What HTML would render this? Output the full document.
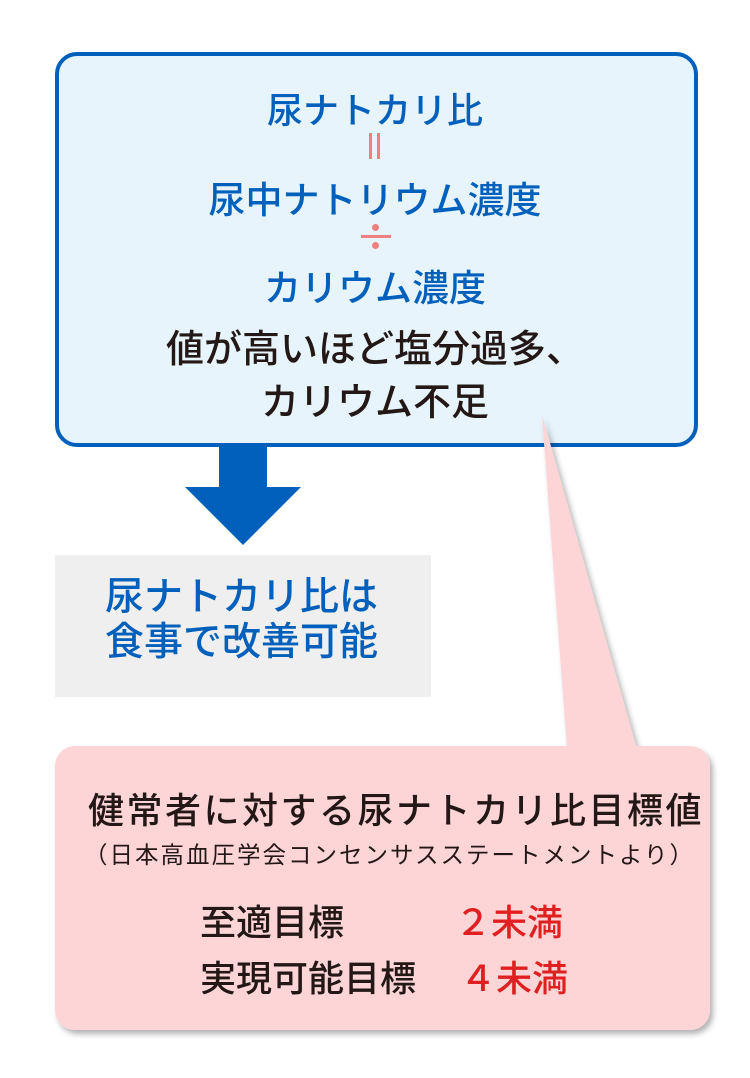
<!DOCTYPE html>
<html><head><meta charset="utf-8"><style>
body{margin:0;width:750px;height:1078px;background:#fff;position:relative;overflow:hidden;font-family:"Liberation Sans","Noto Sans CJK JP",sans-serif}
.t{position:absolute;left:0;width:750px;text-align:center;white-space:nowrap;font-weight:500}
.a{position:absolute;white-space:nowrap;font-weight:500}
</style></head><body>
<div style="position:absolute;left:55px;top:52px;width:635px;height:387px;border:4px solid #0060bb;border-radius:22px;background:#e7f4fb"></div>
<div class="t" style="top:82px;font-size:36px;color:#0060bb;">尿ナトカリ比</div>
<div style="position:absolute;left:369px;top:133px;width:3px;height:26px;background:#f08080"></div>
<div style="position:absolute;left:377px;top:133px;width:3px;height:26px;background:#f08080"></div>
<div class="t" style="top:170px;font-size:37px;color:#0060bb;">尿中ナトリウム濃度</div>
<div style="position:absolute;left:361px;top:235px;width:30px;height:3px;background:#f08080"></div>
<div style="position:absolute;left:372px;top:224px;width:7px;height:7px;border-radius:50%;background:#f08080"></div>
<div style="position:absolute;left:372px;top:242px;width:7px;height:7px;border-radius:50%;background:#f08080"></div>
<div class="t" style="top:258px;font-size:37px;color:#0060bb;">カリウム濃度</div>
<div class="t" style="top:318px;font-size:38px;color:#231815;">値が高いほど塩分過多、</div>
<div class="t" style="top:371px;font-size:38px;color:#231815;">カリウム不足</div>
<svg style="position:absolute;left:0;top:0" width="750" height="1078">
<defs><filter id="s" x="-10%" y="-10%" width="130%" height="130%"><feDropShadow dx="3" dy="4" stdDeviation="3" flood-color="#000" flood-opacity="0.3"/></filter></defs>
<polygon points="219,446 267,446 267,487 301,487 243,545 185,487 219,487" fill="#0060bb"/>
<g filter="url(#s)">
<polygon points="542,415 568,760 640,760" fill="#fdd5d7"/>
<rect x="55" y="746" width="655" height="284" rx="20" fill="#fdd5d7"/>
</g>
<polygon points="542,415 568,760 640,760" fill="#fdd5d7"/>
</svg>
<div style="position:absolute;left:55px;top:555px;width:376px;height:142px;background:#efefef"></div>
<div class="a" style="left:105px;top:575px;font-size:39px;color:#0060bb;line-height:45px;">尿ナトカリ比は<br>食事で改善可能</div>
<div class="a" style="left:88px;top:782px;font-size:36px;letter-spacing:2.5px;color:#231815;">健常者に対する尿ナトカリ比目標値</div>
<div class="a" style="left:84px;top:836px;font-size:23.5px;letter-spacing:2px;color:#231815;font-weight:normal">（日本高血圧学会コンセンサスステートメントより）</div>
<div class="a" style="left:200px;top:894px;font-size:36px;color:#231815;">至適目標</div>
<div class="a" style="left:455px;top:894px;font-size:36px;color:#e02020;">２未満</div>
<div class="a" style="left:200px;top:950px;font-size:36px;color:#231815;">実現可能目標</div>
<div class="a" style="left:460px;top:950px;font-size:36px;color:#e02020;">４未満</div>
</body></html>
